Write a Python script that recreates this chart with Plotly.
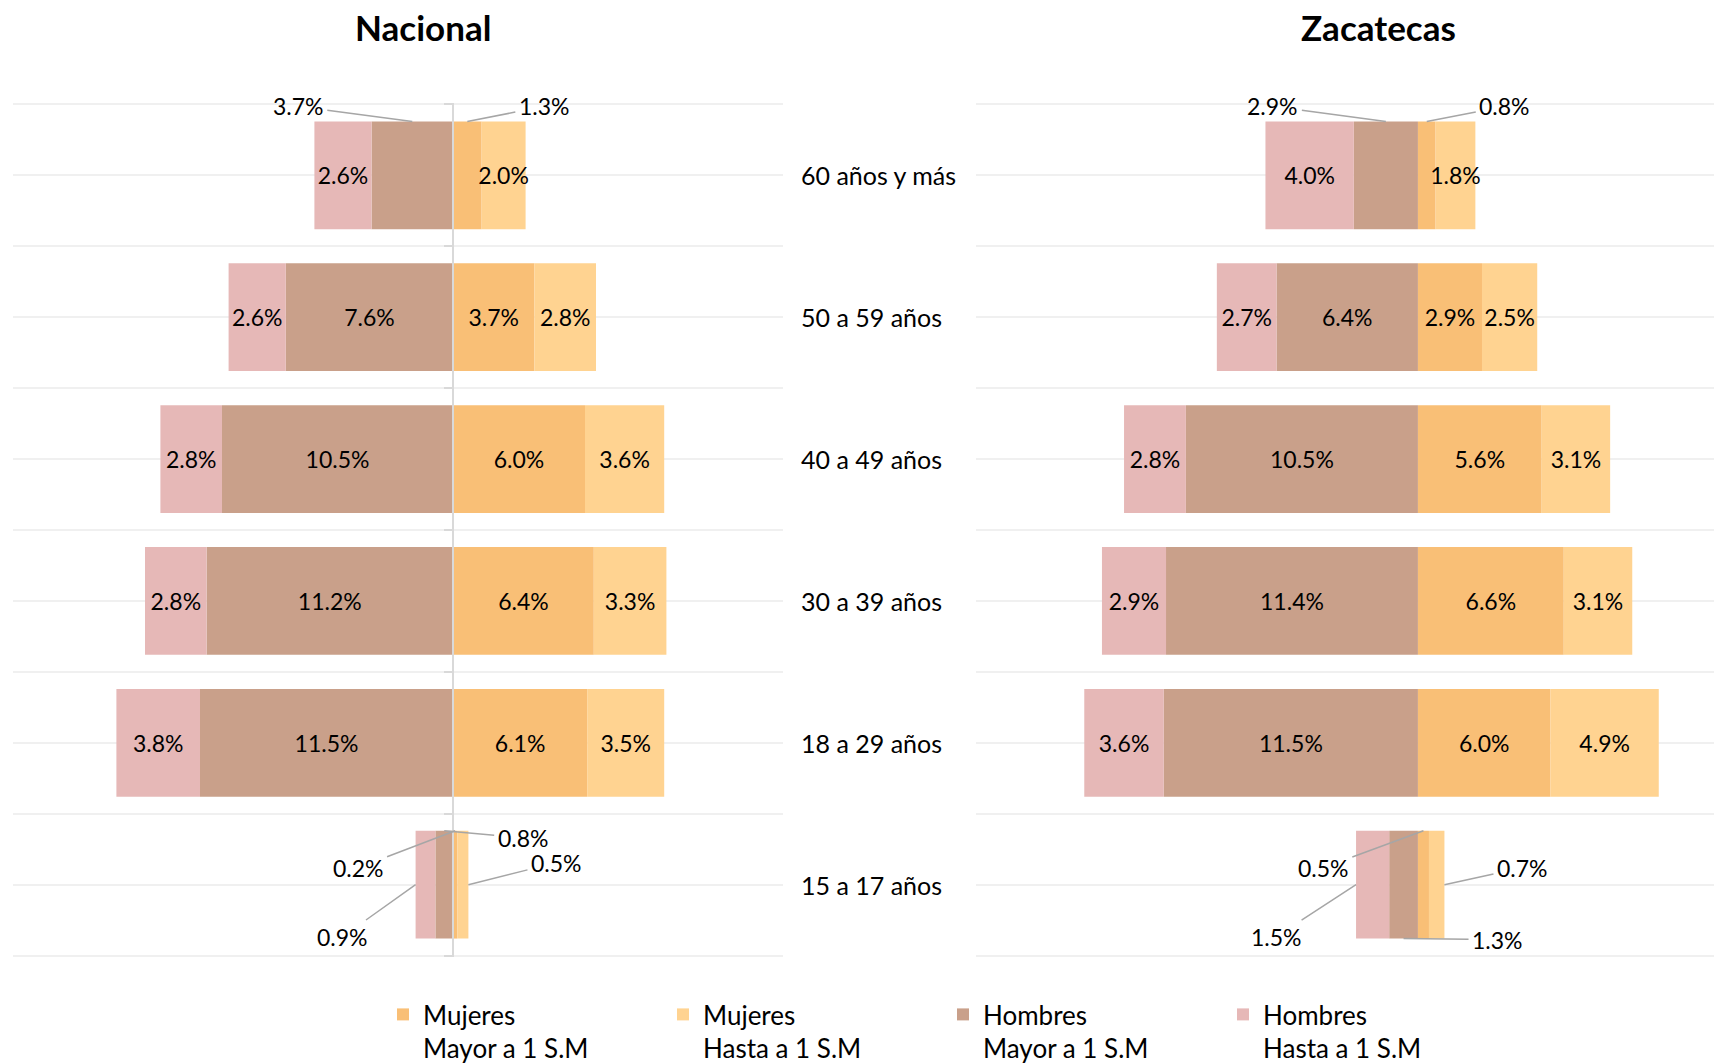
import plotly.graph_objects as go

# ---------------- data ----------------
categories = ["60 años y más", "50 a 59 años", "40 a 49 años",
              "30 a 39 años", "18 a 29 años", "15 a 17 años"]

panels = ["Nacional", "Zacatecas"]

nac_m_mayor = [1.3, 3.7, 6.0, 6.4, 6.1, 0.2]
nac_m_hasta = [2.0, 2.8, 3.6, 3.3, 3.5, 0.5]
nac_h_mayor = [3.7, 7.6, 10.5, 11.2, 11.5, 0.8]
nac_h_hasta = [2.6, 2.6, 2.8, 2.8, 3.8, 0.9]

zac_m_mayor = [0.8, 2.9, 5.6, 6.6, 6.0, 0.5]
zac_m_hasta = [1.8, 2.5, 3.1, 3.1, 4.9, 0.7]
zac_h_mayor = [2.9, 6.4, 10.5, 11.4, 11.5, 1.3]
zac_h_hasta = [4.0, 2.7, 2.8, 2.9, 3.6, 1.5]

series_keys = ["m_mayor", "m_hasta", "h_mayor", "h_hasta"]
series_names = ["Mujeres<br>Mayor a 1 S.M", "Mujeres<br>Hasta a 1 S.M",
                "Hombres<br>Mayor a 1 S.M", "Hombres<br>Hasta a 1 S.M"]

# ---------------- style ----------------
colors = {"m_mayor": "#F9BF76", "m_hasta": "#FFD391",
          "h_mayor": "#C9A08A", "h_hasta": "#E6B8B7"}
FONT = "Lato, 'Open Sans', sans-serif"
W, H = 1714, 1063
BAR_W = 0.76

data = {
    "Nacional": {"m_mayor": nac_m_mayor, "m_hasta": nac_m_hasta,
                 "h_mayor": nac_h_mayor, "h_hasta": nac_h_hasta},
    "Zacatecas": {"m_mayor": zac_m_mayor, "m_hasta": zac_m_hasta,
                  "h_mayor": zac_h_mayor, "h_hasta": zac_h_hasta},
}

# labels placed outside the bars with leader lines: (panel, category, series, side, ax, ay)
callouts = [
    ("Nacional", "60 años y más", "h_mayor", "top", -114, -15),
    ("Nacional", "60 años y más", "m_mayor", "top", 77, -15),
    ("Nacional", "15 a 17 años", "h_mayor", "top", 79, 7),
    ("Nacional", "15 a 17 años", "m_mayor", "top", -97, 37),
    ("Nacional", "15 a 17 años", "h_hasta", "left", -73, 52),
    ("Nacional", "15 a 17 años", "m_hasta", "right", 88, -22),
    ("Zacatecas", "60 años y más", "h_mayor", "top", -113, -15),
    ("Zacatecas", "60 años y más", "m_mayor", "top", 78, -15),
    ("Zacatecas", "15 a 17 años", "m_mayor", "top", -100, 37),
    ("Zacatecas", "15 a 17 años", "h_hasta", "left", -80, 52),
    ("Zacatecas", "15 a 17 años", "h_mayor", "bottom", 94, 1),
    ("Zacatecas", "15 a 17 años", "m_hasta", "right", 78, -17),
]

n = len(categories)
ypos = [n - 1 - i for i in range(n)]

axes = {"Nacional": ("x", "y"), "Zacatecas": ("x2", "y2")}


def fmt(v):
    return f"{v:.1f}%"


def segment(panel, key, i):
    d = data[panel]
    v = d[key][i]
    if key == "m_mayor":
        return 0, v
    if key == "m_hasta":
        return d["m_mayor"][i], d["m_mayor"][i] + v
    if key == "h_mayor":
        return -v, 0
    return -(d["h_mayor"][i] + v), -d["h_mayor"][i]


fig = go.Figure()
for p_i, panel in enumerate(panels):
    xa, ya = axes[panel]
    out_set = {(c[1], c[2]) for c in callouts if c[0] == panel}
    for key, name in zip(series_keys, series_names):
        vals = data[panel][key]
        sign = -1 if key.startswith("h_") else 1
        texts = ["" if (categories[i], key) in out_set else fmt(v)
                 for i, v in enumerate(vals)]
        fig.add_trace(go.Bar(
            y=ypos, x=[sign * v for v in vals], orientation="h",
            width=BAR_W, name=name, legendgroup=key,
            showlegend=(p_i == 0),
            marker=dict(color=colors[key], line=dict(width=0)),
            text=texts, textposition="inside", insidetextanchor="middle",
            textangle=0,
            textfont=dict(family=FONT, size=23, color="#000000"),
            xaxis=xa, yaxis=ya, hoverinfo="skip",
        ))

# ---------------- layout ----------------
xd1 = [13 / W, 783 / W]
xd2 = [976 / W, 1.0]
yd = [(H - 957) / H, (H - 103) / H]
xr1 = [-20, 15]
xr2 = [-20, 13.4]
yr = [-0.51, n - 0.49]
zero_pos = xd1[0] + (xd1[1] - xd1[0]) * (0 - xr1[0]) / (xr1[1] - xr1[0])

bounds = [k - 0.5 for k in range(n + 1)]
centers = list(range(n))
grid = dict(gridcolor="#F0F0F0", gridwidth=2)

fig.update_layout(
    width=W, height=H,
    margin=dict(l=0, r=0, t=0, b=0, autoexpand=False),
    paper_bgcolor="white", plot_bgcolor="white",
    barmode="relative",
    uniformtext=dict(mode="show", minsize=23),
    font=dict(family=FONT, size=23, color="#000000"),
    showlegend=True,
    legend=dict(orientation="h", x=383 / W, xanchor="left",
                y=(H - 991) / H, yanchor="top", valign="top",
                font=dict(family=FONT, size=26, color="#000000"),
                entrywidth=235, entrywidthmode="pixels",
                traceorder="normal", bgcolor="rgba(0,0,0,0)"),
    xaxis=dict(domain=xd1, range=xr1, anchor="y", showgrid=False,
               zeroline=False, showticklabels=False, ticks="", fixedrange=True),
    yaxis=dict(domain=yd, range=yr, anchor="free",
               position=zero_pos, tickvals=bounds, showticklabels=False,
               ticks="outside", ticklen=8, tickwidth=2, tickcolor="#D9D9D9",
               showline=True, linecolor="#D9D9D9", linewidth=2,
               zeroline=False, showgrid=True, **grid,
               minor=dict(tickvals=centers, showgrid=True, ticks="", **grid)),
    xaxis2=dict(domain=xd2, range=xr2, anchor="y2", showgrid=False,
                zeroline=False, showticklabels=False, ticks="", fixedrange=True),
    yaxis2=dict(domain=yd, range=yr, anchor="x2",
                tickvals=bounds, showticklabels=False, ticks="",
                showline=False, zeroline=False, showgrid=True, **grid,
                minor=dict(tickvals=centers, showgrid=True, ticks="", **grid)),
)

annotations = []
# titles
for title, cx in (("Nacional", 423), ("Zacatecas", 1378)):
    annotations.append(dict(text=f"<b>{title}</b>", x=cx / W, y=(H - 27) / H,
                            xref="paper", yref="paper", xanchor="center",
                            yanchor="middle", showarrow=False,
                            font=dict(family=FONT, size=35, color="#000000")))
# category labels between panels
for i, c in enumerate(categories):
    annotations.append(dict(text=c, x=799 / W, xref="paper", xanchor="left",
                            y=ypos[i], yref="y2", yanchor="middle",
                            showarrow=False,
                            font=dict(family=FONT, size=25, color="#000000")))
# callouts with leader lines
for panel, cat, key, side, ax, ay in callouts:
    i = categories.index(cat)
    x0, x1 = segment(panel, key, i)
    y = ypos[i]
    if side == "top":
        px, py = (x0 + x1) / 2, y + BAR_W / 2
    elif side == "bottom":
        px, py = (x0 + x1) / 2, y - BAR_W / 2
    elif side == "left":
        px, py = x0, y
    else:
        px, py = x1, y
    xa, ya = axes[panel]
    annotations.append(dict(
        text=fmt(data[panel][key][i]), x=px, y=py, xref=xa, yref=ya,
        ax=ax, ay=ay, showarrow=True, arrowhead=0, arrowwidth=1.5,
        arrowcolor="#A6A6A6", standoff=0, startstandoff=2,
        font=dict(family=FONT, size=23, color="#000000")))

fig.update_layout(annotations=annotations)

fig.write_html(
    "out.html",
    config={"displayModeBar": False},
    post_script="document.body.style.margin='0';document.body.style.overflow='hidden';",
)
